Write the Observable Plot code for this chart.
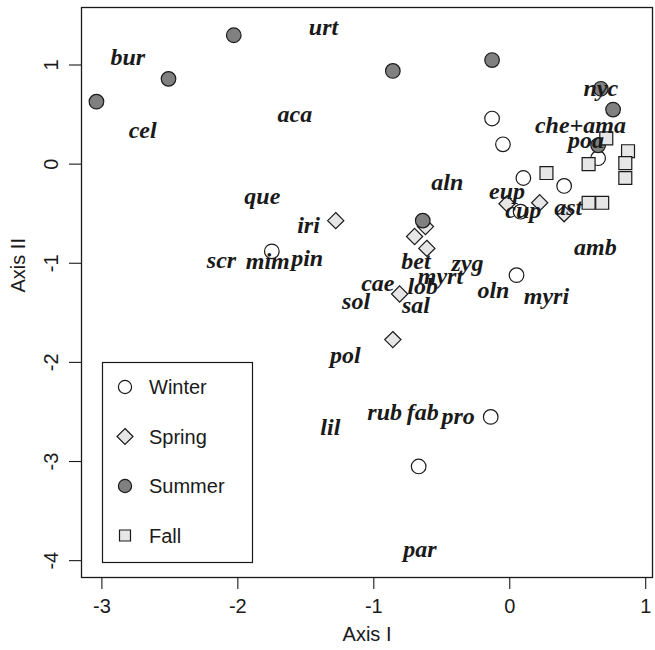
<!DOCTYPE html>
<html>
<head>
<meta charset="utf-8">
<script src="https://cdn.jsdelivr.net/npm/d3@7"></script>
<script src="https://cdn.jsdelivr.net/npm/@observablehq/plot@0.6"></script>
<style>
  html, body { margin: 0; padding: 0; background: #fff; }
  #wrap { position: relative; width: 655px; height: 650px; }
  #legend { position: absolute; left: 0; top: 0; pointer-events: none; }
</style>
</head>
<body>
<div id="wrap"></div>
<script>
// ---- data ----
const seasons = ["Winter", "Spring", "Summer", "Fall"];

const winterX = [-0.13, -0.05, 0.10, 0.40, 0.65, 0.08, -1.75, 0.05, -0.14, -0.67];
const winterY = [0.46, 0.20, -0.14, -0.22, 0.06, -0.48, -0.88, -1.12, -2.55, -3.05];

const springX = [-1.28, -0.62, -0.70, -0.61, -0.81, -0.86, -0.02, 0.22, 0.40];
const springY = [-0.57, -0.63, -0.73, -0.85, -1.31, -1.77, -0.40, -0.39, -0.50];

const summerX = [-3.04, -2.51, -2.03, -0.86, -0.13, 0.67, 0.76, 0.65, -0.64];
const summerY = [0.63, 0.86, 1.30, 0.94, 1.05, 0.76, 0.55, 0.19, -0.57];

const fallX = [0.27, 0.58, 0.71, 0.87, 0.85, 0.85, 0.58, 0.68];
const fallY = [-0.09, 0.00, 0.26, 0.13, 0.01, -0.14, -0.39, -0.39];

const speciesNames = ["urt", "bur", "cel", "aca", "nyc", "che+ama", "poa", "eup", "cup", "ast",
  "amb", "myri", "oln", "zyg", "myrt", "aln", "bet", "cae", "lob", "sol", "sal", "iri", "que",
  "mim", "pin", "scr", "pol", "lil", "rub", "fab", "pro", "par"];
const speciesX = [-1.37, -2.81, -2.70, -1.58, 0.67, 0.52, 0.56, -0.02, 0.10, 0.43,
  0.63, 0.27, -0.12, -0.31, -0.51, -0.46, -0.69, -0.97, -0.64, -1.13, -0.69, -1.48, -1.82,
  -1.78, -1.49, -2.12, -1.21, -1.32, -0.92, -0.64, -0.38, -0.66];
const speciesY = [1.38, 1.08, 0.34, 0.50, 0.76, 0.39, 0.24, -0.27, -0.47, -0.44,
  -0.84, -1.33, -1.27, -1.00, -1.13, -0.18, -0.98, -1.20, -1.23, -1.38, -1.42, -0.62, -0.32,
  -0.98, -0.95, -0.97, -1.93, -2.65, -2.50, -2.50, -2.54, -3.89];

const xTicks = [-3, -2, -1, 0, 1];
const yTicks = [-4, -3, -2, -1, 0, 1];
const xTitle = "Axis I";
const yTitle = "Axis II";

// ---- tables built from the arrays ----
const toRows = (xs, ys) => xs.map((x, i) => ({x, y: ys[i]}));
const winter = toRows(winterX, winterY);
const spring = toRows(springX, springY);
const summer = toRows(summerX, summerY);
const fall = toRows(fallX, fallY);
const species = speciesNames.map((name, i) => ({name, x: speciesX[i], y: speciesY[i]}));

const styleOf = {
  Winter: {symbol: "circle", fill: "#ffffff"},
  Spring: {symbol: "diamond2", fill: "#e6e6e6"},
  Summer: {symbol: "circle", fill: "#808080"},
  Fall: {symbol: "square", fill: "#e6e6e6"}
};
const R = 7.3;
const stroke = "#1a1a1a";
const dotFor = (rows, season) => Plot.dot(rows, {
  x: "x", y: "y", r: R, symbol: styleOf[season].symbol,
  fill: styleOf[season].fill, stroke, strokeWidth: 1.2
});
const fmt = d => String(d);

const W = 655, H = 650;
const chart = Plot.plot({
  width: W,
  height: H,
  marginLeft: 81,
  marginRight: 3,
  marginTop: 7,
  marginBottom: 73,
  style: {fontFamily: "'Liberation Sans', Arial, sans-serif", fontSize: "20px", background: "#fff", color: "#1a1a1a"},
  x: {domain: [-3.15, 1.05]},
  y: {domain: [-4.17, 1.58]},
  marks: [
    Plot.axisX({ticks: xTicks, tickFormat: fmt, tickSize: 12, tickPadding: 9, fontSize: 20, label: null, strokeWidth: 1.1}),
    Plot.axisY({ticks: yTicks, tickFormat: fmt, tickSize: 12, tickPadding: 12, tickRotate: -90, fontSize: 20, label: null, strokeWidth: 1.1}),
    Plot.text([xTitle], {frameAnchor: "bottom", dy: 63, fontSize: 20, fill: "#1a1a1a"}),
    Plot.text([yTitle], {frameAnchor: "left", dx: -63, rotate: -90, fontSize: 20, fill: "#1a1a1a"}),
    dotFor(winter, "Winter"),
    dotFor(spring, "Spring"),
    dotFor(summer, "Summer"),
    dotFor(fall, "Fall"),
    Plot.text(species, {
      x: "x", y: "y", text: "name",
      fontFamily: "'Liberation Serif', 'Times New Roman', serif",
      fontWeight: "bold", fontStyle: "italic", fontSize: 24, fill: "#1a1a1a"
    }),
    Plot.frame({stroke: "#1a1a1a", strokeWidth: 1.3})
  ]
});

const wrap = document.getElementById("wrap");
wrap.appendChild(chart);

// ---- legend overlay (drawn with d3) ----
const legend = d3.select(wrap).append("svg")
  .attr("id", "legend")
  .attr("width", W).attr("height", H);
const box = {x: 102, y: 362, w: 150, h: 200};
legend.append("rect")
  .attr("x", box.x + 0.5).attr("y", box.y + 0.5)
  .attr("width", box.w).attr("height", box.h)
  .attr("fill", "#fff").attr("stroke", "#1a1a1a").attr("stroke-width", 1.2);
const symType = {circle: d3.symbolCircle, diamond2: d3.symbolDiamond2, square: d3.symbolSquare};
const legendSize = {circle: Math.PI * 6.6 * 6.6, diamond2: Math.PI * 7.2 * 7.2, square: 11 * 11};
seasons.forEach((s, i) => {
  const cy = box.y + 25 + i * 49.5;
  const st = styleOf[s];
  legend.append("path")
    .attr("d", d3.symbol(symType[st.symbol], legendSize[st.symbol])())
    .attr("transform", `translate(${box.x + 23},${cy})`)
    .attr("fill", st.fill).attr("stroke", stroke).attr("stroke-width", 1.2);
  legend.append("text")
    .attr("x", box.x + 47).attr("y", cy)
    .attr("dy", "0.35em")
    .attr("font-family", "'Liberation Sans', Arial, sans-serif")
    .attr("font-size", 20)
    .attr("fill", "#1a1a1a")
    .text(s);
});
</script>
</body>
</html>
